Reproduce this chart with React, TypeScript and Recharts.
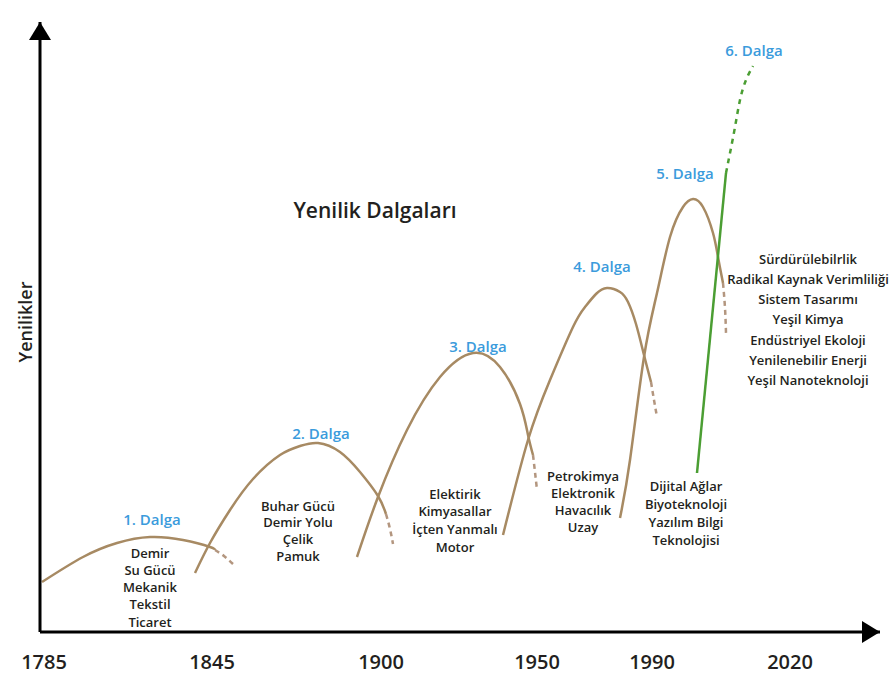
import React from 'react';
import { LineChart, Line, XAxis, YAxis, ReferenceDot } from 'recharts';

// X positions are in axis units along the (non-uniform) timeline; Y is innovation level.
const yearLabels = ['1785', '1845', '1900', '1950', '1990', '2020'];
const yearTickPositions = [4, 172, 341, 497, 612, 750];

const wave1: [number, number][] = [[2, 50], [43, 75], [77, 89], [110, 95], [143, 92], [170, 85], [175, 82]];
const wave1Tail: [number, number][] = [[175, 82], [184, 76], [193, 68]];
const wave2: [number, number][] = [[155, 59], [170, 89], [190, 122], [213, 153], [240, 177], [260, 186], [278, 189], [300, 180], [320, 160], [338, 136], [346, 118]];
const wave2Tail: [number, number][] = [[346, 118], [350, 103], [353, 88]];
const wave3: [number, number][] = [[317, 75], [338, 135], [367, 202], [400, 255], [433, 279], [460, 265], [480, 228], [488, 197], [493, 177]];
const wave3Tail: [number, number][] = [[493, 177], [495, 160], [497, 142]];
const wave4: [number, number][] = [[463, 97], [488, 192], [510, 252], [533, 305], [545, 325], [556, 338], [567, 344], [580, 340], [588, 330], [596, 308], [604, 277], [611, 250]];
const wave4Tail: [number, number][] = [[611, 250], [614, 232], [617, 215]];
const wave5: [number, number][] = [[580, 114], [590, 172], [604, 275], [617, 339], [630, 395], [643, 425], [653, 433], [663, 425], [673, 399], [678, 375], [683, 349]];
const wave5Tail: [number, number][] = [[683, 349], [685, 324], [686, 299]];
const wave6: [number, number][] = [[657, 159], [686, 459]];
const wave6Tail: [number, number][] = [[686, 459], [690, 479], [695, 505], [700, 532], [706, 552], [713, 566]];

const waveNames = ['1. Dalga', '2. Dalga', '3. Dalga', '4. Dalga', '5. Dalga', '6. Dalga'];
const waveNameAnchors: [number, number][] = [[112, 107], [281, 193], [438, 280], [562, 360], [645, 453], [714, 576]];

const wave1Items = ['Demir', 'Su Gücü', 'Mekanik', 'Tekstil', 'Ticaret'];
const wave2Items = ['Buhar Gücü', 'Demir Yolu', 'Çelik', 'Pamuk'];
const wave3Items = ['Elektirik', 'Kimyasallar', 'İçten Yanmalı', 'Motor'];
const wave4Items = ['Petrokimya', 'Elektronik', 'Havacılık', 'Uzay'];
const wave5Items = ['Dijital Ağlar', 'Biyoteknoloji', 'Yazılım Bilgi', 'Teknolojisi'];
const wave6Items = ['Sürdürülebilrlik', 'Radikal Kaynak Verimliliği', 'Sistem Tasarımı', 'Yeşil Kimya', 'Endüstriyel Ekoloji', 'Yenilenebilir Enerji', 'Yeşil Nanoteknoloji'];
const itemAnchors: [number, number][] = [[110, 79], [258, 126], [415, 138], [543, 156], [646, 146], [768, 373]];

const title = 'Yenilik Dalgaları';
const yTitle = 'Yenilikler';

const FONT = "'Open Sans', 'DejaVu Sans', sans-serif";
const BROWN = '#a78a63';
const BROWN_DASH = '#b3967f';
const GREEN = '#4b9e33';
const BLUE = '#3b9bdc';
const DARK = '#231f20';

const toPts = (a: [number, number][]) => a.map(([x, y]) => ({ x, y }));

const textBlock = (lines: string[], lh: number, size: number, color: string) => (p: any) => (
  <text x={p.cx} y={p.cy + size * 0.35} textAnchor="middle" fontFamily={FONT} fontWeight={600} fontSize={size} fill={color}>
    {lines.map((l, i) => (
      <tspan key={i} x={p.cx} dy={i === 0 ? 0 : lh}>{l}</tspan>
    ))}
  </text>
);

const waveLabel = (name: string) => (p: any) => (
  <text x={p.cx} y={p.cy} textAnchor="middle" fontFamily={FONT} fontWeight={600} fontSize={15} fill={BLUE}>{name}</text>
);

const arrowRight = (p: any) => (
  <polygon points={`${p.cx + 18},${p.cy} ${p.cx},${p.cy - 11} ${p.cx},${p.cy + 11}`} fill="#000" />
);
const arrowUp = (p: any) => (
  <polygon points={`${p.cx},${p.cy - 18} ${p.cx - 11},${p.cy} ${p.cx + 11},${p.cy}`} fill="#000" />
);

const yTitleShape = (p: any) => (
  <text x={p.cx} y={p.cy} transform={`rotate(-90 ${p.cx} ${p.cy})`} textAnchor="middle" dominantBaseline="central" fontFamily={FONT} fontWeight={600} fontSize={18} fill={DARK}>{yTitle}</text>
);
const titleShape = (p: any) => (
  <text x={p.cx} y={p.cy} textAnchor="middle" fontFamily={FONT} fontWeight={600} fontSize={21} fill={DARK}>{title}</text>
);

const YearTick = (props: any) => {
  const { x, y, payload } = props;
  const idx = yearTickPositions.indexOf(payload.value);
  return (
    <text x={x} y={y + 29} textAnchor="middle" fontFamily={FONT} fontWeight={600} fontSize={20} fill={DARK}>
      {idx >= 0 ? yearLabels[idx] : ''}
    </text>
  );
};

const solidWaves = [wave1, wave2, wave3, wave4, wave5];
const tailWaves = [wave1Tail, wave2Tail, wave3Tail, wave4Tail, wave5Tail];
const itemLists = [wave1Items, wave2Items, wave3Items, wave4Items, wave5Items, wave6Items];
const itemLineHeights = [17.3, 16.8, 17.7, 17, 18, 20.3];

export default function App() {
  return (
    <div style={{ position: 'absolute', left: 0, top: 0, width: 894, height: 684, background: '#fff' }}>
      <LineChart width={894} height={684} margin={{ top: 22, right: 14, bottom: 0, left: 0 }}>
        <XAxis
          type="number"
          dataKey="x"
          domain={[0, 840]}
          ticks={yearTickPositions}
          allowDataOverflow
          axisLine={{ stroke: '#000', strokeWidth: 3 }}
          tickLine={false}
          tick={<YearTick />}
          height={52}
          interval={0}
        />
        <YAxis
          type="number"
          dataKey="y"
          domain={[0, 610]}
          allowDataOverflow
          width={40}
          tick={false}
          tickLine={false}
          axisLine={{ stroke: '#000', strokeWidth: 3 }}
        />
        {solidWaves.map((w, i) => (
          <Line key={`s${i}`} data={toPts(w)} dataKey="y" type="natural" stroke={BROWN} strokeWidth={2.5} dot={false} activeDot={false} isAnimationActive={false} />
        ))}
        {tailWaves.map((w, i) => (
          <Line key={`t${i}`} data={toPts(w)} dataKey="y" type="natural" stroke={BROWN_DASH} strokeWidth={2.5} strokeDasharray="5 4" dot={false} activeDot={false} isAnimationActive={false} />
        ))}
        <Line data={toPts(wave6)} dataKey="y" type="linear" stroke={GREEN} strokeWidth={2.5} dot={false} activeDot={false} isAnimationActive={false} />
        <Line data={toPts(wave6Tail)} dataKey="y" type="natural" stroke={GREEN} strokeWidth={2.5} strokeDasharray="5 5" dot={false} activeDot={false} isAnimationActive={false} />

        {waveNames.map((n, i) => (
          <ReferenceDot key={`n${i}`} x={waveNameAnchors[i][0]} y={waveNameAnchors[i][1]} ifOverflow="visible" shape={waveLabel(n)} />
        ))}
        {itemLists.map((lines, i) => (
          <ReferenceDot key={`d${i}`} x={itemAnchors[i][0]} y={itemAnchors[i][1]} ifOverflow="visible" shape={textBlock(lines, itemLineHeights[i], 13, DARK)} />
        ))}
        <ReferenceDot x={335} y={414} ifOverflow="visible" shape={titleShape} />
        <ReferenceDot x={-15} y={310} ifOverflow="visible" shape={yTitleShape} />
        <ReferenceDot x={822} y={0} ifOverflow="visible" shape={arrowRight} />
        <ReferenceDot x={0} y={592} ifOverflow="visible" shape={arrowUp} />
      </LineChart>
    </div>
  );
}
